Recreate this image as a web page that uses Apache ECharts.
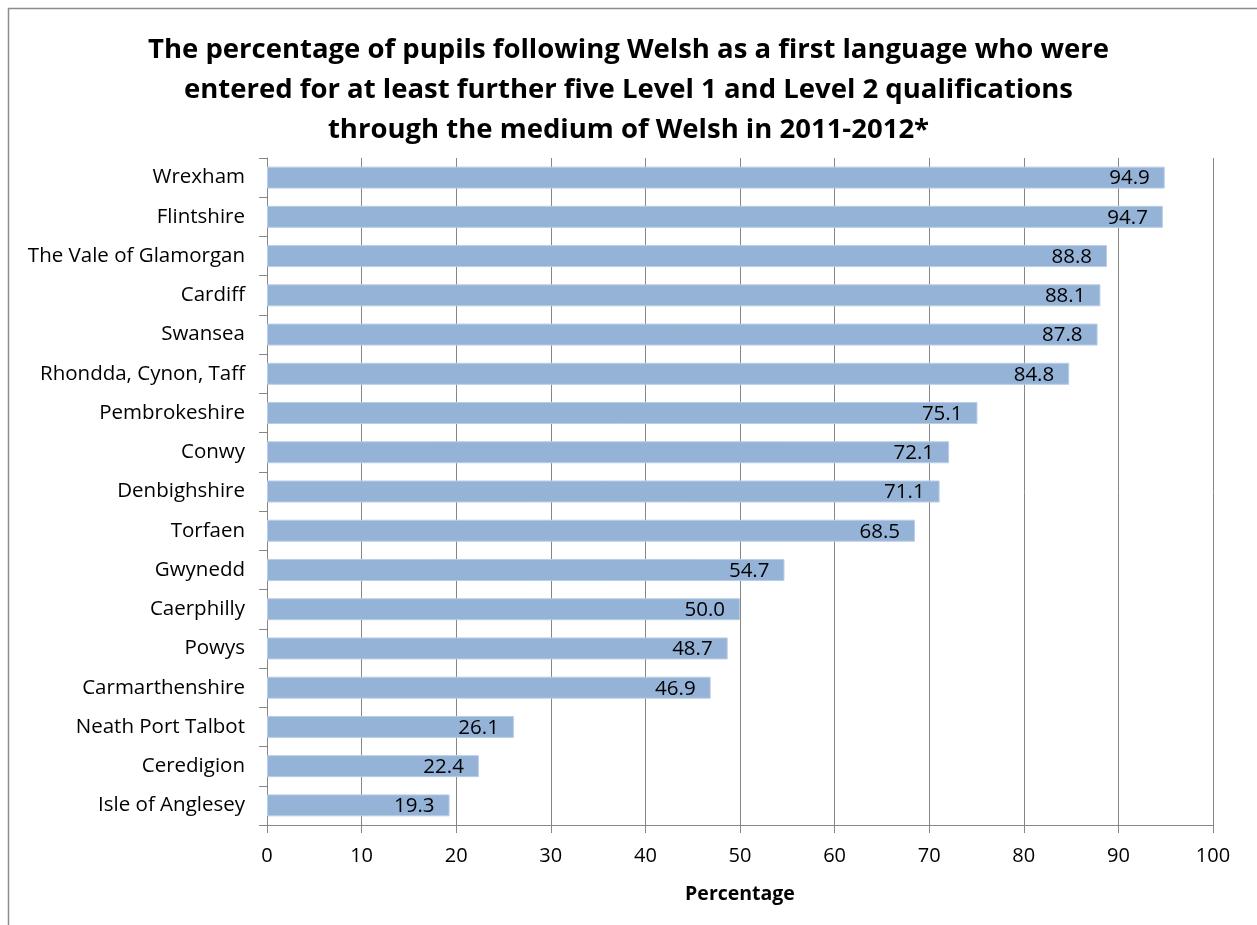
<!DOCTYPE html>
<html><head><meta charset="utf-8">
<script src="https://cdn.jsdelivr.net/npm/echarts@6/dist/echarts.min.js"></script>
<style>html,body{margin:0;padding:0;background:#fff}#c{width:1257px;height:925px}</style>
</head><body><div id="c"></div>
<script>
const categories = ["Wrexham","Flintshire","The Vale of Glamorgan","Cardiff","Swansea","Rhondda, Cynon, Taff","Pembrokeshire","Conwy","Denbighshire","Torfaen","Gwynedd","Caerphilly","Powys","Carmarthenshire","Neath Port Talbot","Ceredigion","Isle of Anglesey"];
const values = [94.9,94.7,88.8,88.1,87.8,84.8,75.1,72.1,71.1,68.5,54.7,50.0,48.7,46.9,26.1,22.4,19.3];
const titleText = "The percentage of pupils following Welsh as a first language who were\nentered for at least further five Level 1 and Level 2 qualifications\nthrough the medium of Welsh in 2011-2012*";
const axisName = "Percentage";
const font = "'Open Sans', 'Noto Sans', sans-serif";
const chart = echarts.init(document.getElementById('c'));
chart.setOption({
  animation:false,
  backgroundColor:'#fff',
  graphic:[{type:'rect',shape:{x:8.5,y:8.5,width:1300,height:1000},style:{fill:'none',stroke:'#8c8c8c',lineWidth:1.5},z:-1}],
  title:{text:titleText,left:'center',top:25,textStyle:{fontFamily:font,fontWeight:'bold',fontSize:27.5,lineHeight:40,color:'#000'}},
  grid:{left:267,right:44,top:158,bottom:100,containLabel:false},
  xAxis:{type:'value',min:0,max:100,interval:10,name:axisName,nameLocation:'middle',nameGap:59,
    nameTextStyle:{fontFamily:font,fontWeight:'bold',fontSize:19.5,color:'#000'},
    axisLine:{show:true,lineStyle:{color:'#868686'}},axisTick:{show:true,length:8,lineStyle:{color:'#868686'}},
    axisLabel:{fontFamily:font,fontSize:20,color:'#000',margin:21},
    splitLine:{show:true,lineStyle:{color:'#868686'}}},
  yAxis:{type:'category',data:categories,inverse:true,
    axisLine:{show:true,lineStyle:{color:'#868686'}},axisTick:{show:true,length:8,lineStyle:{color:'#868686'}},
    axisLabel:{fontFamily:font,fontSize:20.5,color:'#000',margin:22}},
  series:[{type:'bar',data:values,barCategoryGap:'44%',
    itemStyle:{color:'#95B3D7',borderColor:'#B9CDE5',borderWidth:1},
    label:{show:true,position:'insideRight',formatter:p=>p.value.toFixed(1),fontFamily:font,fontSize:20.5,color:'#000',offset:[-10,1]}}]
});
</script></body></html>
